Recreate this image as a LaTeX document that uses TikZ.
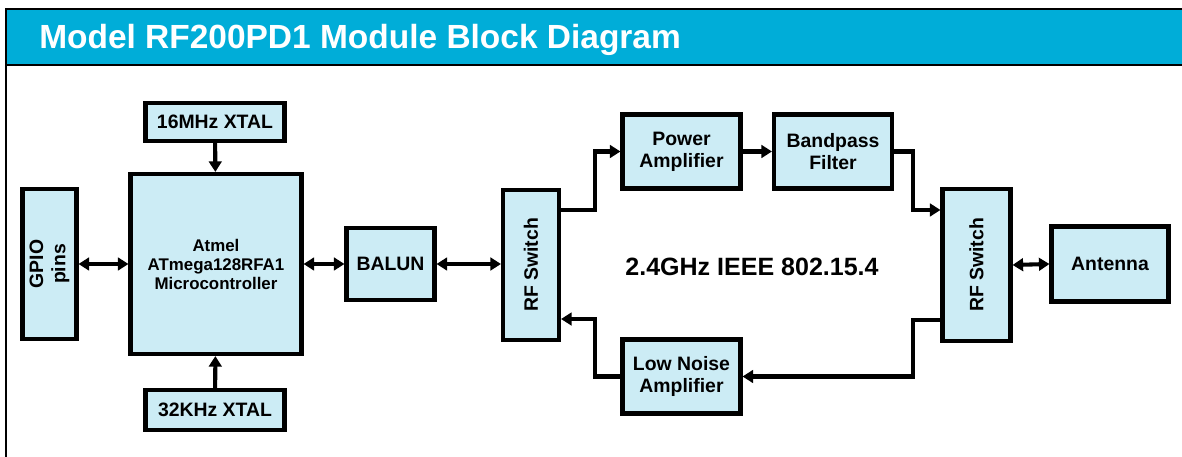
\documentclass[tikz,border=0pt]{standalone}
\usepackage{fontspec}
\setmainfont{Liberation Sans}
\usetikzlibrary{arrows.meta,positioning,calc}
\definecolor{bandblue}{RGB}{0,173,216}
\definecolor{boxcyan}{RGB}{204,236,245}

\begin{document}
\begin{tikzpicture}[
  x=0.025cm, y=-0.025cm,
  >={Triangle[length=7.5pt,width=9pt]},
  blk/.style={draw=black, line width=2.9pt, rectangle, fill=boxcyan,
              inner sep=0pt, align=center,
              font=\fontsize{13.8}{15.8}\selectfont\bfseries},
  vblk/.style={blk, rotate=90},
  link/.style={line width=2.9pt},
  band/.style={draw=black, line width=1.5pt, fill=bandblue}
]

% ===== page frame =====
\useasboundingbox (0,0) rectangle (1182,457);
\draw[line width=1.5pt] (6,9) -- (6,470);
\draw[band] (6,9) rectangle (1195,65);
\node[anchor=west, inner sep=0pt, text=white,
      font=\fontsize{23.8}{26}\selectfont\bfseries] (title) at (39,40)
  {Model RF200PD1 Module Block Diagram};

% ===== junction columns =====
\def\xJl{595}     % left split column
\def\xJr{913}     % right split column

% ===== microcontroller side =====
\node[blk, minimum width=3.475cm, minimum height=0.95cm] (xtalh) at (215,122) {16MHz XTAL};
\node[blk, minimum width=4.275cm, minimum height=4.5cm,
      font=\fontsize{12}{13.5}\selectfont\bfseries] (mcu) at (216,264)
  {Atmel\\ATmega128RFA1\\Microcontroller};
\node[vblk, minimum width=3.75cm, minimum height=1.35cm] (gpio) at (49.5,264) {GPIO\\pins};
\node[blk, minimum width=3.475cm, minimum height=0.98cm] (xtall) at (215,410) {32KHz XTAL};
\node[blk, minimum width=2.2cm, minimum height=1.8cm] (balun) at (390.5,264) {BALUN};

% ===== rf section =====
\node[vblk, minimum width=3.75cm, minimum height=1.4cm] (swl) at (531,265) {RF Switch};
\node[blk, minimum width=2.95cm, minimum height=1.85cm] (pa) at (681.5,151.5) {Power\\Amplifier};
\node[blk, minimum width=2.95cm, minimum height=1.85cm] (bpf) at (833,151.5) {Bandpass\\Filter};
\node[blk, minimum width=2.95cm, minimum height=1.85cm] (lna) at (681.5,376.5) {Low Noise\\Amplifier};
\node[vblk, minimum width=3.8cm, minimum height=1.7cm] (swr) at (976.5,265) {RF Switch};
\node[blk, minimum width=2.925cm, minimum height=1.875cm] (ant) at (1110,264) {Antenna};

\node[font=\fontsize{17.8}{20}\selectfont\bfseries] (std) at (752,267) {2.4GHz IEEE 802.15.4};

% ===== taps on the switches =====
\coordinate (swlout) at ([yshift=1.375cm]swl.south);
\coordinate (swlin)  at ([yshift=-1.35cm]swl.south);
\coordinate (swrin)  at ([yshift=1.375cm]swr.north);
\coordinate (swrout) at ([yshift=-1.375cm]swr.north);
\coordinate (jl) at (\xJl,0);
\coordinate (jr) at (\xJr,0);

% ===== connections =====
\draw[link, ->] (xtalh) -- (mcu);
\draw[link, ->] (xtall) -- (mcu);
\draw[link, <->] (gpio.south) -- (mcu.west);
\draw[link, <->] (mcu.east) -- (balun.west);
\draw[link, <->] (balun.east) -- (balun.east -| swl.north);

% transmit path
\draw[link, ->] (swlout) -| (jl |- pa.west) -- (pa.west);
\draw[link, ->] (pa.east) -- (bpf.west);
\draw[link, ->] (bpf.east) -| (jr |- swrin) -- (swrin);

% receive path
\draw[link, ->] (swrout) -| (jr |- lna.east) -- (lna.east);
\draw[link, ->] (lna.west) -| (jl |- swlin) -- (swlin);

\draw[link, <->] (swr.south) -- (ant.west);

\end{tikzpicture}
\end{document}
